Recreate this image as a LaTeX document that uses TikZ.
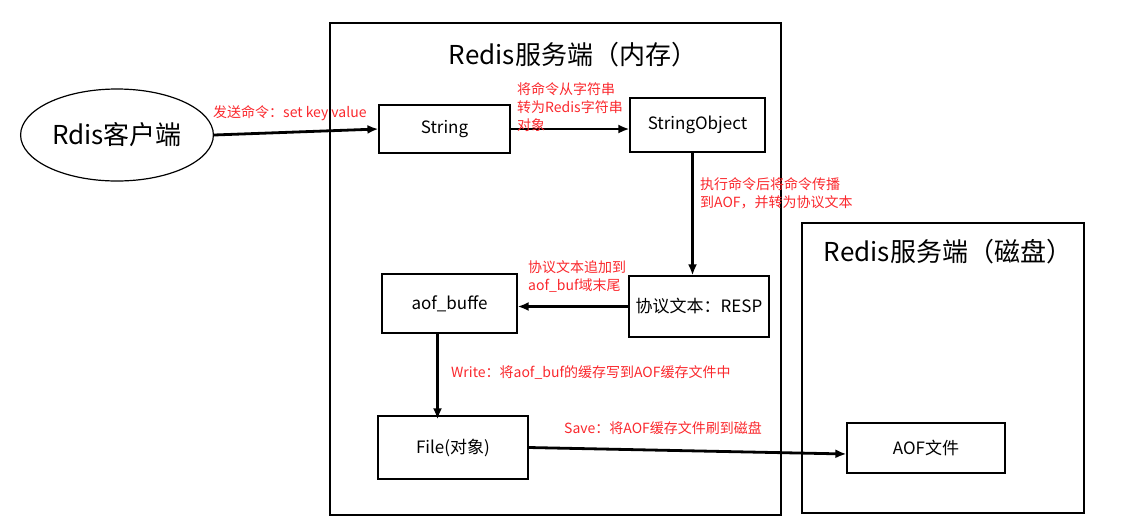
\documentclass[tikz,border=0pt]{standalone}
\usepackage{fontspec}
\setmainfont{Noto Sans CJK SC}
\usepackage{tikz}
\usetikzlibrary{shapes,arrows.meta}
\pgfdeclarelayer{edgelayer}
\pgfdeclarelayer{nodelayer}
\pgfsetlayers{edgelayer,nodelayer,main}
\definecolor{lred}{RGB}{250,40,45}
\tikzstyle{client}=[ellipse, draw=black, line width=1.2pt, minimum width=184pt, minimum height=92pt, font=\fontsize{26}{30}\selectfont]
\tikzstyle{server}=[rectangle, draw=black, line width=1.2pt, inner sep=0pt]
\tikzstyle{title}=[font=\fontsize{26}{30}\selectfont]
\tikzstyle{block}=[rectangle, draw=black, line width=1.2pt, inner sep=0pt, font=\fontsize{17}{20}\selectfont]
\tikzstyle{note}=[anchor=west, align=left, inner sep=0pt, text=lred, font=\fontsize{14}{18}\selectfont]
\tikzstyle{arrow}=[-{Latex[length=11pt,width=9pt]}, draw=black, line width=2.8pt]

\begin{document}
\begin{tikzpicture}[x=1pt, y=-1pt]
            \useasboundingbox (0, 0) rectangle (1132, 531);
            \begin{pgfonlayer}{nodelayer}
                \node [style=server, minimum width=451pt, minimum height=492pt] (mem) at (555.5, 269) {};
                \node [style=title] (memtitle) at (573, 55) {Redis服务端（内存）};
                \node [style=server, minimum width=282pt, minimum height=290pt] (disk) at (943, 368) {};
                \node [style=title] (disktitle) at (948, 252) {Redis服务端（磁盘）};

                \node [style=client] (client) at (117, 135) {Rdis客户端};
                \node [style=block, minimum width=131pt, minimum height=48pt] (str) at (444.5, 129) {String};
                \node [style=block, minimum width=135pt, minimum height=54pt] (strobj) at (697.5, 125) {StringObject};
                \node [style=block, minimum width=140pt, minimum height=61pt] (resp) at (699, 306.5) {协议文本：RESP};
                \node [style=block, minimum width=135pt, minimum height=59pt] (buf) at (449.5, 303.5) {aof\_buffe};
                \node [style=block, minimum width=150pt, minimum height=63pt] (file) at (453, 447.5) {File(对象)};
                \node [style=block, minimum width=158pt, minimum height=50pt] (aof) at (926, 448) {AOF文件};

                \node [style=note] (lblsend) at (213, 113) {发送命令：set key value};
                \node [style=note] (lblconv) at (517, 107) {将命令从字符串\\转为Redis字符串\\对象};
                \node [style=note] (lblexec) at (700, 193) {执行命令后将命令传播\\到AOF，并转为协议文本};
                \node [style=note] (lblappend) at (528, 277) {协议文本追加到\\aof\_buf域末尾};
                \node [style=note] (lblwrite) at (451, 373) {Write：将aof\_buf的缓存写到AOF缓存文件中};
                \node [style=note] (lblsave) at (564, 428) {Save：将AOF缓存文件刷到磁盘};
            \end{pgfonlayer}
            \begin{pgfonlayer}{edgelayer}
                \draw [style=arrow] (client.east) to (str.west);
                \draw [style=arrow] (str.east) to (str.east -| strobj.west);
                \draw [style=arrow] ([xshift=-5pt]strobj.south) to ([xshift=-5pt]strobj.south |- resp.north);
                \draw [style=arrow] (resp.west) to (resp.west -| buf.east);
                \draw [style=arrow] ([xshift=-12pt]buf.south) to ([xshift=-12pt, yshift=-4pt]buf.south |- file.north);
                \draw [style=arrow] (file.east) to ([yshift=-6pt]aof.west);
            \end{pgfonlayer}
        \end{tikzpicture}
\end{document}
